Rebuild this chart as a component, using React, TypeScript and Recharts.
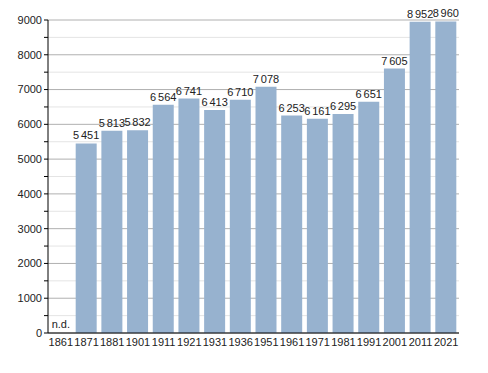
import React from 'react';
import { BarChart, Bar, XAxis, YAxis, CartesianGrid, LabelList } from 'recharts';

const years = ['1861', '1871', '1881', '1901', '1911', '1921', '1931', '1936', '1951', '1961', '1971', '1981', '1991', '2001', '2011', '2021'];
const population: (number | null)[] = [null, 5451, 5813, 5832, 6564, 6741, 6413, 6710, 7078, 6253, 6161, 6295, 6651, 7605, 8952, 8960];
const yTicks = [0, 500, 1000, 1500, 2000, 2500, 3000, 3500, 4000, 4500, 5000, 5500, 6000, 6500, 7000, 7500, 8000, 8500, 9000];
const noDataText = 'n.d.';

const data = years.map((year, i) => ({ year, pop: population[i] }));

const font = '"Liberation Sans", Arial, sans-serif';

// major lines every 1000 (even index), lighter ones at the 500s
const gridLine = (props: any) => {
  const { x1, x2, y1, y2, index } = props;
  const major = index % 2 === 0;
  return (
    <line
      key={`g-${index}`}
      x1={x1}
      x2={x2}
      y1={y1}
      y2={y2}
      stroke={major ? '#b0b0b0' : '#e4e4e4'}
      strokeWidth={1}
    />
  );
};

// value above the bar, thousands split by a thin gap
const ValueLabel = (props: any) => {
  const { x, y, width, value } = props;
  if (value == null) return null;
  const s = String(value);
  const head = s.length > 3 ? s.slice(0, -3) : '';
  const tail = s.length > 3 ? s.slice(-3) : s;
  return (
    <text x={x + width / 2} y={y - 4} textAnchor="middle" fontSize={11} fill="#222" fontFamily={font}>
      {head && <tspan>{head}</tspan>}
      <tspan dx={head ? 1.8 : 0}>{tail}</tspan>
    </text>
  );
};

// year label under the axis, plus "n.d." sitting on the axis where there is no value
const YearTick = (props: any) => {
  const { x, y, payload, index } = props;
  const missing = population[index] === null;
  return (
    <g>
      <text x={x} y={y} dy={6} textAnchor="middle" fontSize={11} fill="#222" fontFamily={font}>
        {payload.value}
      </text>
      {missing && (
        <text x={x} y={y - 12} textAnchor="middle" fontSize={11} fill="#222" fontFamily={font}>
          {noDataText}
        </text>
      )}
    </g>
  );
};

const App: React.FC = () => {
  return (
    <div style={{ position: 'absolute', left: 0, top: 0, background: '#fff' }}>
      <BarChart width={488} height={373} data={data} margin={{ top: 20, right: 29, left: 0, bottom: 10 }}>
        <CartesianGrid vertical={false} horizontal={gridLine} />
        <XAxis
          dataKey="year"
          height={30}
          axisLine={{ stroke: '#000' }}
          tickLine={false}
          interval={0}
          tick={<YearTick />}
          tickMargin={1}
        />
        <YAxis
          width={48}
          domain={[0, 9000]}
          ticks={yTicks}
          interval={0}
          axisLine={{ stroke: '#000' }}
          tickLine={{ stroke: '#000' }}
          tickSize={4}
          tickFormatter={(v: number) => (v % 1000 === 0 ? String(v) : '')}
          tick={{ fontSize: 11, fill: '#222', fontFamily: font }}
        />
        <Bar dataKey="pop" fill="#97b2cf" barSize={21} isAnimationActive={false}>
          <LabelList dataKey="pop" content={ValueLabel} />
        </Bar>
      </BarChart>
    </div>
  );
};

export default App;
